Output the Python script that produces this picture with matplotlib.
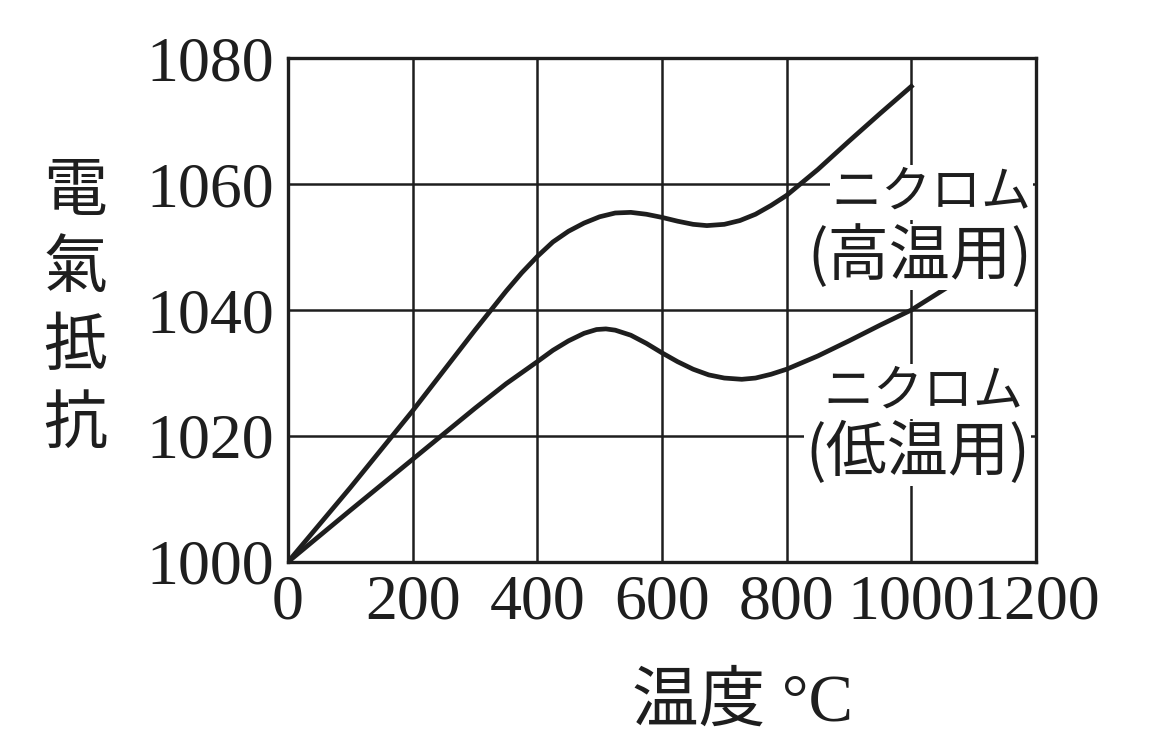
import matplotlib
matplotlib.use("Agg")
import matplotlib.pyplot as plt

# temperature (°C) vs resistance
high_temp = [0, 100, 200, 300, 350, 375, 400, 425, 450, 475, 500, 525, 550,
             575, 600, 625, 650, 672, 700, 725, 750, 775, 800, 850, 900, 950,
             1000]
high_res = [1000, 1011.8, 1024, 1036.8, 1043.0, 1045.9, 1048.5, 1050.8,
            1052.5, 1053.8, 1054.8, 1055.4, 1055.5, 1055.2, 1054.7, 1054.1,
            1053.6, 1053.4, 1053.6, 1054.2, 1055.2, 1056.6, 1058.2, 1062.3,
            1066.8, 1071.2, 1075.5]

low_temp = [0, 100, 200, 300, 350, 400, 425, 450, 475, 495, 510, 525, 550,
            575, 600, 625, 650, 675, 700, 728, 750, 775, 800, 850, 900, 950,
            1000, 1061]
low_res = [1000, 1008.2, 1016.3, 1024.4, 1028.3, 1031.8, 1033.6, 1035.1,
           1036.3, 1036.9, 1037, 1036.8, 1036, 1034.7, 1033.2, 1031.8, 1030.6,
           1029.7, 1029.2, 1029, 1029.2, 1029.8, 1030.6, 1032.7, 1035.1,
           1037.6, 1040, 1043.8]

x_ticks = [0, 200, 400, 600, 800, 1000, 1200]
y_ticks = [1000, 1020, 1040, 1060, 1080]

ylabel_text = "電\n氣\n抵\n抗"
xlabel_text = "温度 °C"
name_text = "ニクロム"
high_text = "(高温用)"
low_text = "(低温用)"

serif_jp = ["Liberation Serif", "Noto Sans CJK JP"]
ink = "#1e1e1e"

fig = plt.figure(figsize=(11.63, 7.42), dpi=100)
ax = fig.add_axes([0.2476, 0.2426, 0.6432, 0.6792])

ax.plot(high_temp, high_res, color=ink, lw=3.4, solid_joinstyle="round", zorder=3)
ax.plot(low_temp, low_res, color=ink, lw=3.4, solid_joinstyle="round", zorder=3)

ax.set_xlim(0, 1200)
ax.set_ylim(1000, 1080)
ax.set_xticks(x_ticks)
ax.set_yticks(y_ticks)
ax.grid(True, color=ink, lw=1.8)
ax.set_axisbelow(True)
for s in ax.spines.values():
    s.set_linewidth(2.4)
    s.set_color(ink)

ax.tick_params(length=0, labelsize=46, colors=ink)
ax.tick_params(axis="y", pad=10)
ax.tick_params(axis="x", pad=9)
for lab in ax.get_xticklabels() + ax.get_yticklabels():
    lab.set_fontfamily("Liberation Serif")

box = dict(facecolor="white", edgecolor="none", pad=1)
ax.text(1192, 1058.6, name_text, ha="right", va="center", fontsize=36,
        family="Noto Sans CJK JP", color=ink, bbox=box, zorder=4)
ax.text(1194, 1048.4, high_text, ha="right", va="center", fontsize=44,
        family="Noto Sans CJK JP", color=ink, bbox=box, zorder=4)
ax.text(1180, 1027, name_text, ha="right", va="center", fontsize=36,
        family="Noto Sans CJK JP", color=ink, bbox=box, zorder=4)
ax.text(1190, 1017.2, low_text, ha="right", va="center", fontsize=44,
        family="Noto Sans CJK JP", color=ink, bbox=box, zorder=4)

fig.text(75 / 1163, 1 - 308 / 742, ylabel_text, ha="center", va="center",
         fontsize=46, family="Noto Sans CJK JP", linespacing=1.22, color=ink)
fig.text(743 / 1163, 1 - 704 / 742, xlabel_text, ha="center", va="center",
         fontsize=48, family=serif_jp, color=ink)

plt.savefig("out.png", dpi=100, facecolor="white")
plt.close()
